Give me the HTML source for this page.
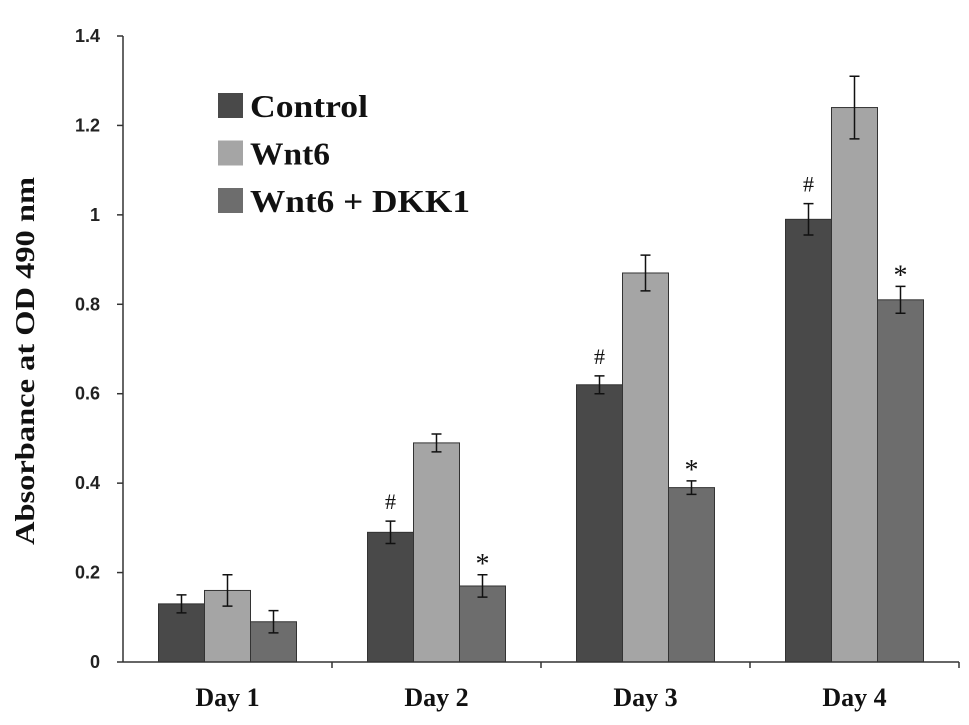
<!DOCTYPE html>
<html><head><meta charset="utf-8"><style>
html,body{margin:0;padding:0;background:#fff;}
svg{display:block;}
</style></head><body>
<svg id="chart" width="969" height="725" xmlns="http://www.w3.org/2000/svg"></svg>
<script>
const categories = ["Day 1","Day 2","Day 3","Day 4"];
const seriesNames = ["Control","Wnt6","Wnt6 + DKK1"];
const controlValues = [0.13,0.29,0.62,0.99];
const wnt6Values = [0.16,0.49,0.87,1.24];
const dkk1Values = [0.09,0.17,0.39,0.81];
const controlErr = [0.02,0.025,0.02,0.035];
const wnt6Err = [0.035,0.02,0.04,0.07];
const dkk1Err = [0.025,0.025,0.015,0.03];
const controlMarks = ["","#","#","#"];
const dkk1Marks = ["","*","*","*"];
const yTicks = [0,0.2,0.4,0.6,0.8,1,1.2,1.4];
const yTickLabels = ["0","0.2","0.4","0.6","0.8","1","1.2","1.4"];

const NS="http://www.w3.org/2000/svg";
const svg=document.getElementById('chart');
const x0=123,x1=959,y0=662,yTop=36,yMax=1.4;
const yScale=v=>y0-(v/yMax)*(y0-yTop);
const groupW=(x1-x0)/categories.length;
const barW=46;
const xBar=(g,s)=>x0+groupW*g+groupW/2-barW*1.5+s*barW;
function el(t,a,txt){const e=document.createElementNS(NS,t);for(const k in a)e.setAttribute(k,a[k]);if(txt!==undefined)e.textContent=txt;svg.appendChild(e);return e;}
const fills=["#494949","#a5a5a5","#6d6d6d"];
const vals=[controlValues,wnt6Values,dkk1Values];
const errs=[controlErr,wnt6Err,dkk1Err];
const names=["control","wnt6","wnt6-dkk1"];
const legendLens=[118,80,220];

yTicks.forEach((t,i)=>{
  const y=yScale(t);
  let l=el('line',{x1:x0-6,x2:x0,y1:y,y2:y,stroke:'#333','stroke-width':1.5});
  
  
  let tx=el('text',{x:100,y:y+6,'text-anchor':'end','font-family':'Liberation Sans, sans-serif','font-weight':'bold','font-size':18,fill:'#222'},yTickLabels[i]);
  
  
});
categories.forEach((c,g)=>{
  for(let s=0;s<3;s++){
    const v=vals[s][g],e=errs[s][g],x=xBar(g,s);
    let r=el('rect',{x:x,y:yScale(v),width:barW,height:y0-yScale(v),fill:fills[s],stroke:'#333','stroke-width':1});
    
    
    const cx=x+barW/2;
    let p=el('path',{d:`M${cx},${yScale(v+e)}V${yScale(v-e)}M${cx-5},${yScale(v+e)}H${cx+5}M${cx-5},${yScale(v-e)}H${cx+5}`,stroke:'#111','stroke-width':1.5,fill:'none'});
    
    
  }
  if(controlMarks[g]){
    let t=el('text',{x:xBar(g,0)+barW/2,y:yScale(controlValues[g]+controlErr[g])-12,'text-anchor':'middle','font-family':'Liberation Serif, serif','font-size':22,fill:'#111'},controlMarks[g]);
    
    
  }
  if(dkk1Marks[g]){
    let t=el('text',{x:xBar(g,2)+barW/2,y:yScale(dkk1Values[g]+dkk1Err[g])-2,'text-anchor':'middle','font-family':'Liberation Serif, serif','font-size':28,fill:'#111'},dkk1Marks[g]);
    
    
  }
  let xl=el('text',{x:x0+groupW*g+groupW/2,y:706,'text-anchor':'middle','font-family':'Liberation Serif, serif','font-weight':'bold','font-size':26,fill:'#111'},c);
  
  
  let tk=el('line',{x1:x0+groupW*(g+1),x2:x0+groupW*(g+1),y1:y0,y2:y0+6,stroke:'#333','stroke-width':1.5});
  
  
});
let ax=el('line',{x1:x0,x2:x0,y1:yTop,y2:y0,stroke:'#333','stroke-width':1.5});


let axx=el('line',{x1:x0,x2:x1,y1:y0,y2:y0,stroke:'#333','stroke-width':1.5});


let yt=el('text',{x:0,y:0,transform:'translate(34,361) rotate(-90)','text-anchor':'middle','font-family':'Liberation Serif, serif','font-weight':'bold','font-size':27,textLength:368,lengthAdjust:'spacingAndGlyphs',fill:'#111'},'Absorbance at OD 490 nm');


seriesNames.forEach((n,i)=>{
  const y=93+i*47.5;
  let r=el('rect',{x:218,y:y,width:25,height:25,fill:fills[i]});
  
  
  let t=el('text',{x:250,y:y+24,'font-family':'Liberation Serif, serif','font-weight':'bold','font-size':32,textLength:legendLens[i],lengthAdjust:'spacingAndGlyphs',fill:'#111'},n);
  
  
});
</script>
</body></html>
